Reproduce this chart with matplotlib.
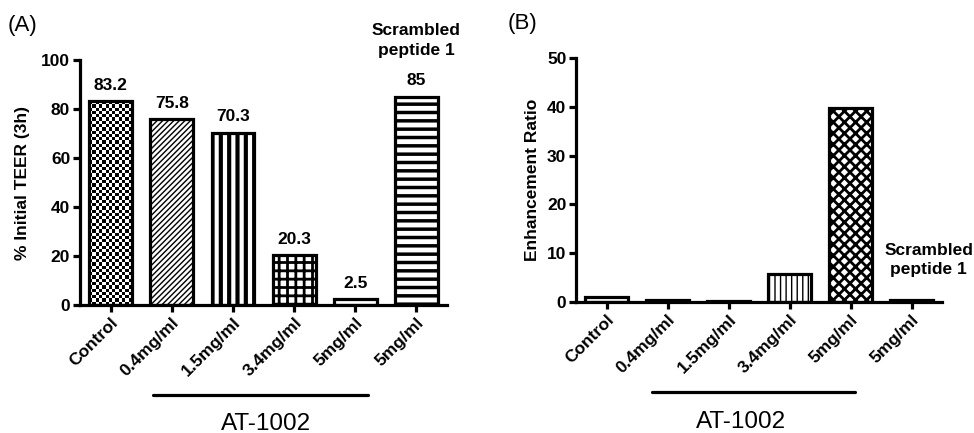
import numpy as np
import matplotlib
matplotlib.use('Agg')
import matplotlib.pyplot as plt
import matplotlib.transforms as mtransforms

plt.rcParams['font.family'] = 'Liberation Sans'
plt.rcParams['hatch.color'] = 'black'

# data
categories = ['Control', '0.4mg/ml', '1.5mg/ml', '3.4mg/ml', '5mg/ml', '5mg/ml']
teer_pct = [83.2, 75.8, 70.3, 20.3, 2.5, 85]
teer_labels = ['83.2', '75.8', '70.3', '20.3', '2.5', '85']
enh_ratio = [1.0, 0.5, 0.3, 5.8, 39.8, 0.5]

hatch_a = [None, '//////', '||', '++', '-', '--']
hatch_lw_a = [1.0, 1.0, 3.0, 2.0, 1.5, 2.5]
hatch_b = ['-', '/', '/', '|||', 'xxx', '-']
hatch_lw_b = [1.0, 1.0, 1.0, 1.0, 2.0, 1.0]

EDGE_LW = 2.3
FS = 12.5
fig = plt.figure(figsize=(9.74, 4.33), dpi=100)
axA = fig.add_axes([0.0821, 0.2956, 0.3769, 0.5658])
axB = fig.add_axes([0.5914, 0.3025, 0.3758, 0.5635])

def style_axes(ax, ymax, ystep, ylabel, ylab_x):
    for s in ['top', 'right']:
        ax.spines[s].set_visible(False)
    for s in ['left', 'bottom']:
        ax.spines[s].set_linewidth(2.3)
    ax.set_ylim(0, ymax)
    ax.set_xlim(-0.5, 5.5)
    ax.set_yticks(np.arange(0, ymax + 1, ystep))
    ax.tick_params(axis='both', direction='out', length=5, width=2.3, labelsize=FS, pad=2)
    for t in ax.get_yticklabels():
        t.set_fontweight('bold')
    ax.set_xticks(range(len(categories)))
    ax.set_xticklabels(categories, rotation=45, ha='right', rotation_mode='anchor',
                       fontweight='bold', fontsize=FS)
    ax.set_ylabel(ylabel, fontweight='bold', fontsize=FS)
    ax.yaxis.set_label_coords(ylab_x, 0.5)

def draw_bars(ax, vals, hatches, hlws):
    bars = ax.bar(range(len(vals)), vals, width=0.7, color='white',
                  edgecolor='black', linewidth=EDGE_LW, zorder=2)
    for b, h, lw in zip(bars, hatches, hlws):
        if h:
            b.set_hatch(h)
        if hasattr(b, 'set_hatch_linewidth'):
            b.set_hatch_linewidth(lw)
    return bars

# Panel A
barsA = draw_bars(axA, teer_pct, hatch_a, hatch_lw_a)
# checkerboard fill for control bar
b0 = barsA[0]
b0.set_facecolor('none')
checker = np.indices((62, 13)).sum(axis=0) % 2
im = axA.imshow(checker, cmap='gray', extent=(b0.get_x(), b0.get_x() + b0.get_width(),
                0, b0.get_height()), aspect='auto', interpolation='nearest', zorder=1.5)
im.set_clip_path(b0)
style_axes(axA, 100, 20, '% Initial TEER (3h)', -0.136)
for b, lab in zip(barsA, teer_labels):
    axA.annotate(lab, (b.get_x() + b.get_width() / 2, b.get_height()),
                 xytext=(0, 6), textcoords='offset points', ha='center', va='bottom',
                 fontsize=FS, fontweight='bold', annotation_clip=False)
axA.text(5, 108, 'Scrambled\npeptide 1', ha='center', va='center', fontsize=FS,
         fontweight='bold', linespacing=1.4, clip_on=False)

# Panel B
barsB = draw_bars(axB, enh_ratio, hatch_b, hatch_lw_b)
style_axes(axB, 50, 10, 'Enhancement Ratio', -0.098)
axB.text(5.28, 8.6, 'Scrambled\npeptide 1', ha='center', va='center', fontsize=FS,
         fontweight='bold', linespacing=1.35)

# AT-1002 bracket lines
for ax, x0, x1, xt, yl, yt in [(axA, 0.69, 4.2, 2.54, -0.367, -0.485),
                               (axB, 0.74, 4.08, 2.21, -0.369, -0.49)]:
    tr = mtransforms.blended_transform_factory(ax.transData, ax.transAxes)
    ax.plot([x0, x1], [yl, yl], color='black', lw=2.3, transform=tr, clip_on=False,
            solid_capstyle='round')
    ax.text(xt, yt, 'AT-1002', transform=tr, ha='center', va='center', fontsize=17.5)

fig.text(0.008, 0.942, '(A)', fontsize=16, va='center')
fig.text(0.521, 0.946, '(B)', fontsize=16, va='center')

fig.savefig('out.png', dpi=100, facecolor='white')
